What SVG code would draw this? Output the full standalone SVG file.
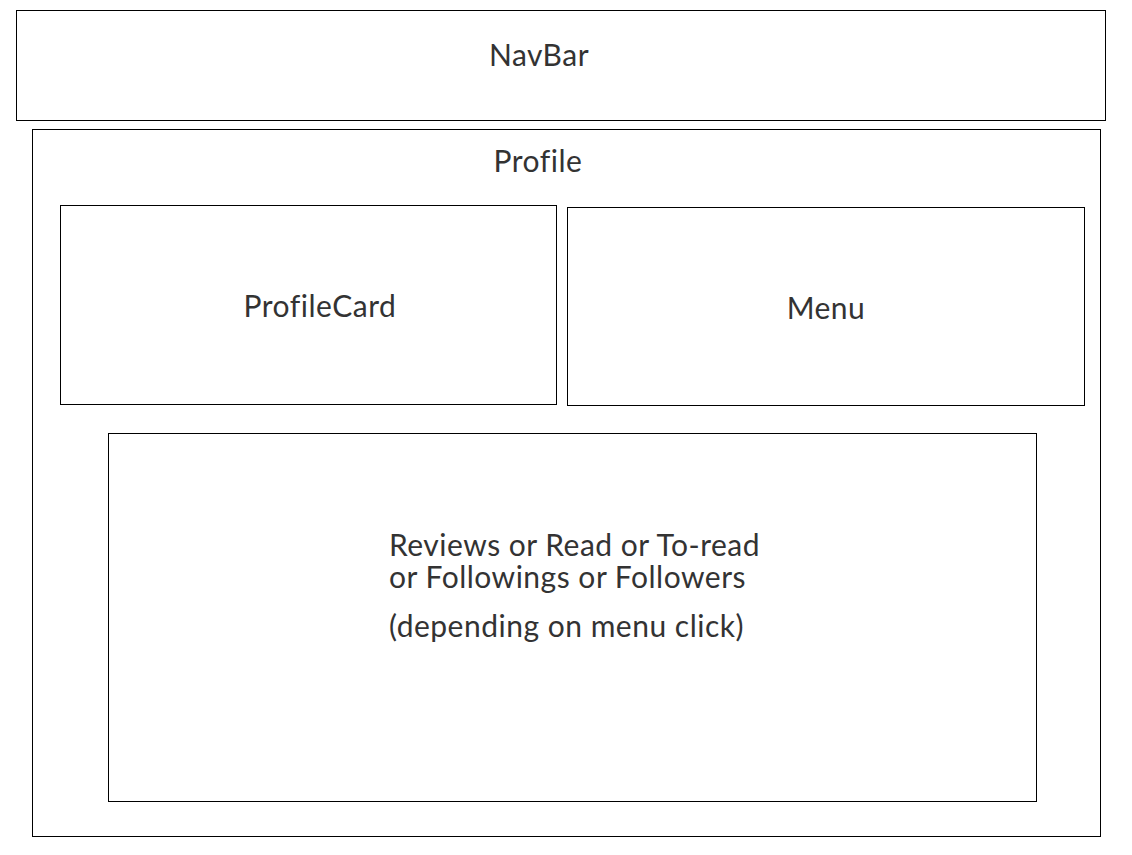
<svg xmlns="http://www.w3.org/2000/svg" width="1132" height="855" viewBox="0 0 1132 855">
<style>
rect{fill:#fff;stroke:#000;stroke-width:1}
text{font-family:Lato,"Liberation Sans",sans-serif;font-size:30px;fill:#333;letter-spacing:0.5px}
.c{text-anchor:middle}
</style>
<rect x="0" y="0" width="1132" height="855" style="stroke:none"/>
<g id="navbar"><rect x="16.5" y="10.5" width="1089" height="110"/><text class="c" x="539" y="66">NavBar</text></g>
<g id="profile"><rect x="32.5" y="129.5" width="1068" height="707"/><text class="c" x="538" y="172">Profile</text></g>
<g id="profilecard"><rect x="60.5" y="205.5" width="496" height="199"/><text class="c" x="320" y="317">ProfileCard</text></g>
<g id="menu"><rect x="567.5" y="207.5" width="517" height="198"/><text class="c" x="826" y="319">Menu</text></g>
<g id="content"><rect x="108.5" y="433.5" width="928" height="368"/>
<text x="389" y="556">Reviews or Read or To-read<tspan x="389" y="588">or Followings or Followers</tspan><tspan x="389" y="637">(depending on menu click)</tspan></text></g>
<g id="connectors"/>
</svg>
